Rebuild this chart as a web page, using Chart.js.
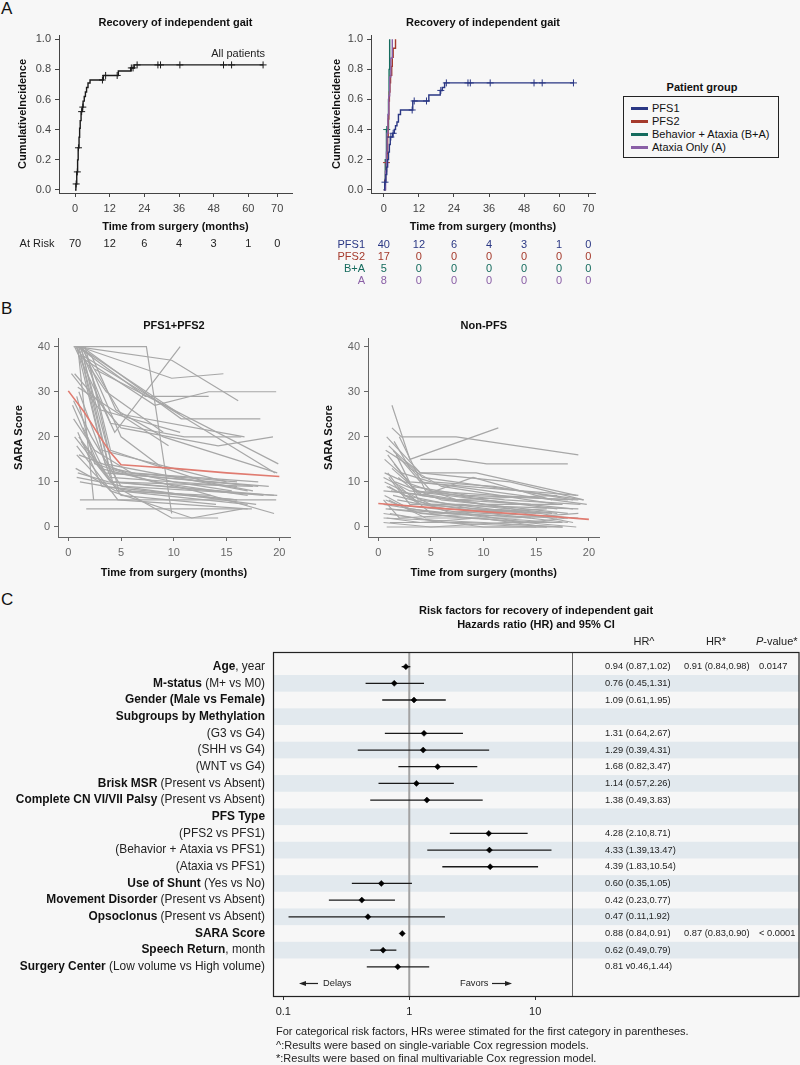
<!DOCTYPE html>
<html>
<head>
<meta charset="utf-8">
<script src="https://cdn.jsdelivr.net/npm/chart.js@4.4.0/dist/chart.umd.min.js"></script>
<style>
body { margin:0; background:#f7f7f7; width:800px; height:1065px; position:relative; overflow:hidden; font-family:"Liberation Sans", Arial, sans-serif; color:#111; }
canvas { position:absolute; }
.panel { position:absolute; font-size:17px; line-height:17px; }
#legendTitle { position:absolute; left:623px; width:158px; top:80px; line-height:14px; text-align:center; font-weight:bold; font-size:11px; }
#legend { position:absolute; left:623px; top:96px; width:154px; height:60px; border:1px solid #222; }
.entry { position:absolute; left:28px; font-size:11px; line-height:13px; white-space:nowrap; }
.swatch { position:absolute; left:7px; width:17px; height:3px; }
</style>
</head>
<body>
<div class="panel" style="left:1px;top:0px">A</div>
<div class="panel" style="left:1px;top:300px">B</div>
<div class="panel" style="left:1px;top:591px">C</div>

<canvas id="kmAll" width="300" height="290" style="left:0;top:0"></canvas>
<canvas id="kmGroup" width="300" height="290" style="left:300px;top:0"></canvas>
<div id="legendTitle">Patient group</div>
<div id="legend"></div>
<canvas id="saraPfs" width="300" height="300" style="left:0;top:290px"></canvas>
<canvas id="saraNon" width="300" height="300" style="left:300px;top:290px"></canvas>
<canvas id="forest" width="800" height="475" style="left:0;top:590px"></canvas>

<script>
const FONT = '"Liberation Sans", Arial, sans-serif';

// ---- Panel A: cumulative incidence ----
const kmTicks = [0, 12, 24, 36, 48, 60, 70];
const cumTicks = [0, 0.2, 0.4, 0.6, 0.8, 1.0];

const kmAllT = [0, 0.3, 0.6, 0.9, 1.1, 1.4, 1.6, 1.8, 2.1, 2.5, 2.8, 3.2, 3.6, 4.0, 4.5, 5.2, 9.8, 15.0, 19.3, 20.5, 65.1];
const kmAllS = [0, 0.04, 0.12, 0.20, 0.28, 0.35, 0.41, 0.46, 0.52, 0.55, 0.59, 0.62, 0.65, 0.68, 0.71, 0.73, 0.76, 0.79, 0.81, 0.83, 0.83];
const kmAllCensorT = [0.4, 0.8, 1.2, 2.3, 2.7, 9.5, 10.6, 14.6, 19.5, 20.1, 21.5, 28.7, 29.6, 36.3, 51.4, 54.2, 65.1];
const kmAllCensorS = [0.04, 0.12, 0.28, 0.52, 0.55, 0.73, 0.76, 0.76, 0.81, 0.81, 0.83, 0.83, 0.83, 0.83, 0.83, 0.83, 0.83];
const atRiskAll = [70, 12, 6, 4, 3, 1, 0];

const groupNames = ['PFS1', 'PFS2', 'Behavior + Ataxia (B+A)', 'Ataxia Only (A)'];
const groupShort = ['PFS1', 'PFS2', 'B+A', 'A'];
const groupColors = ['#2a3784', '#a53a2c', '#146b5d', '#8a5fa6'];

const pfs1T = [0, 0.3, 0.7, 1.0, 1.3, 1.6, 1.9, 2.2, 3.0, 3.6, 4.0, 4.5, 5.0, 5.7, 9.9, 15.4, 19.3, 20.0, 20.8, 64.9];
const pfs1S = [0, 0.05, 0.10, 0.15, 0.20, 0.25, 0.30, 0.35, 0.375, 0.40, 0.425, 0.45, 0.50, 0.53, 0.59, 0.63, 0.66, 0.68, 0.71, 0.71];
const pfs1CensorT = [0.4, 2.4, 3.2, 9.7, 10.4, 14.6, 19.5, 21.4, 28.8, 29.6, 36.4, 51.4, 54.2, 64.9];
const pfs1CensorS = [0.05, 0.35, 0.375, 0.53, 0.59, 0.59, 0.66, 0.71, 0.71, 0.71, 0.71, 0.71, 0.71, 0.71];
const pfs2T = [0, 0.3, 0.6, 0.9, 1.1, 1.3, 1.5, 1.7, 1.9, 2.1, 2.3, 2.7, 2.9, 3.2, 4.0];
const pfs2S = [0, 0.06, 0.12, 0.18, 0.24, 0.35, 0.47, 0.59, 0.65, 0.71, 0.76, 0.82, 0.88, 0.94, 1.0];
const pfs2CensorT = [0.9];
const pfs2CensorS = [0.18];
const baT = [0, 0.5, 0.9, 1.6, 1.8, 2.0];
const baS = [0, 0.2, 0.4, 0.6, 0.8, 1.0];
const baCensorT = [1.0];
const baCensorS = [0.4];
const aT = [0, 0.6, 0.9, 1.1, 1.4, 1.7, 2.0, 2.4, 2.9];
const aS = [0, 0.125, 0.25, 0.375, 0.5, 0.625, 0.75, 0.875, 1.0];

const atRiskPFS1 = [40, 12, 6, 4, 3, 1, 0];
const atRiskPFS2 = [17, 0, 0, 0, 0, 0, 0];
const atRiskBA = [5, 0, 0, 0, 0, 0, 0];
const atRiskA = [8, 0, 0, 0, 0, 0, 0];

// ---- Panel B: SARA score trajectories ([months, score]) ----
const monthTicks = [0, 5, 10, 15, 20];
const saraTicks = [0, 10, 20, 30, 40];

const pfsLines = [
  [[0.5,40],[7.4,40],[9.8,3]],
  [[0.8,40],[9.8,37],[16.1,28]],
  [[0.6,40],[4.4,21],[10.6,40]],
  [[1.1,40],[9.8,33],[14.7,34]],
  [[0.9,40],[7.3,29],[13.3,29]],
  [[1.0,38],[8.2,27],[13.3,30],[19.7,30]],
  [[1.3,40],[10.7,24],[18.2,24]],
  [[1.0,40],[10.6,25]],
  [[1.2,40],[5.0,25],[16.7,20]],
  [[0.6,34],[5.0,22],[14.2,18],[19.4,20]],
  [[2.5,35],[19.9,14]],
  [[1.4,38],[19.6,12]],
  [[0.9,31],[9.5,18]],
  [[0.3,34],[3.0,26],[10.6,21]],
  [[1.1,6],[19.7,6]],
  [[1.7,4],[17.4,4]],
  [[1.0,20],[4.5,9],[9.8,2],[14.2,2]],
  [[0.8,16],[4.0,8],[11.7,2],[16.5,4]],
  [[0.9,40],[2.4,6]],
  [[1.0,40],[3.5,14],[17.0,8]],
  [[1.2,40],[4.0,12],[18.0,9]],
  [[1.1,39],[4.2,10],[19.5,7]],
  [[0.8,40],[3.2,17],[15.0,10]],
  [[1.5,37],[4.8,8],[17.0,5]],
  [[1.0,30],[4.0,11],[16.0,9]],
  [[0.5,28],[2.2,20],[5.0,9],[17.8,5]],
  [[0.4,27],[3.0,13],[12.0,8],[19.5,3]],
  [[0.9,21],[3.2,9],[16.0,6]],
  [[0.6,20],[4.0,10],[18.5,7]],
  [[1.2,19],[5.0,7],[14.0,5]],
  [[0.8,18],[4.7,6],[17.0,4]],
  [[1.0,16],[5.5,12],[16.0,10]],
  [[0.7,13],[4.5,8],[13.5,7]],
  [[0.9,12],[3.8,10],[17.5,9]],
  [[0.8,11],[5.2,9],[19.8,7]],
  [[1.1,10],[6.0,8],[16.0,6]],
  [[1.3,40],[5.0,20],[9.0,13]],
  [[1.1,40],[4.0,23],[11.0,20],[16.4,20]],
  [[0.7,40],[3.6,30],[9.0,21]],
  [[1.6,40],[4.0,17],[13.0,10],[17.5,8]],
  [[2.0,36],[4.2,13],[10.0,10],[15.5,8]],
  [[0.5,24],[2.5,17],[6.0,12],[18.0,10]],
  [[1.4,22],[3.5,12],[19.0,9]],
  [[1.0,40],[2.2,38],[4.5,26],[9.0,20],[19.8,12]],
  [[0.8,29],[2.5,14],[8.0,10],[17.0,7]]
];
const pfsMeanT = [0, 1.5, 3, 4, 5, 8, 10, 15, 20];
const pfsMeanV = [30.2, 25.5, 20, 16.5, 13.8, 13.3, 13, 12, 11.2];

const nonPfsLines = [
  [[1.3,27],[3.0,15],[11.4,22]],
  [[1.3,22],[2.2,20],[7.4,20],[19.0,16]],
  [[4.0,15],[7.4,15],[10.3,14],[18.0,14]],
  [[0.8,20],[4.0,12],[9.3,12],[18.8,7]],
  [[1.0,18],[4.2,11],[19.5,6]],
  [[0.6,15],[3.0,10],[19.0,7]],
  [[1.4,17],[4.0,10],[19.8,5]],
  [[2.0,20],[4.5,8],[18.0,6]],
  [[0.5,11],[3.0,8],[17.0,4]],
  [[0.5,8],[5.0,7],[18.0,2]],
  [[1.0,9],[4.0,5],[15.0,3]],
  [[0.7,6],[4.0,3],[18.8,0]],
  [[0.5,2],[10.0,1],[17.5,0]],
  [[0.8,0],[17.5,0]],
  [[1.0,4],[8.0,2],[16.0,1]],
  [[0.5,5],[6.0,3],[17.0,2]],
  [[1.2,8],[7.0,6],[17.0,7]],
  [[0.6,10],[5.0,5],[19.0,4]],
  [[1.5,14],[3.5,8],[12.0,6],[19.2,5]],
  [[0.9,12],[2.5,7],[9.0,4],[16.5,3]],
  [[1.7,16],[3.8,6],[14.0,3],[18.5,1]],
  [[0.6,7],[3.0,4],[11.0,2],[17.0,1]],
  [[1.1,3],[6.0,1],[15.0,0]],
  [[0.5,1],[5.0,0],[12.0,1],[17.5,1]],
  [[2.2,12],[5.0,10],[11.0,9],[18.5,6]],
  [[1.0,6],[4.5,2],[13.0,2],[19.0,3]],
  [[0.8,9],[3.5,6],[7.0,3],[16.0,4]],
  [[1.9,11],[4.0,7],[10.0,5],[17.5,5]],
  [[0.7,4],[7.0,3],[14.5,2]],
  [[1.3,13],[4.2,7],[9.0,11],[16.5,6]],
  [[0.5,3],[3.5,2],[10.0,0],[16.0,0]],
  [[1.6,10],[6.0,6],[18.0,3]],
  [[1.2,5],[5.5,4],[14.0,1],[18.0,2]],
  [[0.9,16],[3.2,9],[8.5,7],[19.0,6]],
  [[2.0,9],[5.0,3],[12.5,4]],
  [[0.6,12],[2.5,10],[7.5,6],[14.5,5]],
  [[1.4,7],[5.0,5],[11.0,3],[19.0,2]],
  [[0.8,2],[4.0,1],[9.5,2],[16.0,0]],
  [[1.5,19],[3.0,13],[6.0,9],[17.0,5]],
  [[1.1,1],[8.5,1],[17.5,0]],
  [[0.7,17],[2.7,14],[5.0,8],[10.0,6],[18.5,4]],
  [[1.8,6],[6.5,4],[15.5,3]],
  [[2.4,15],[4.0,12],[12.5,10],[19.5,6]],
  [[1.0,11],[3.0,5],[8.0,5],[17.0,3]],
  [[0.5,6],[2.0,2],[10.5,3],[18.0,1]]
];
const nonPfsMeanT = [0, 5, 10, 15, 20];
const nonPfsMeanV = [5.2, 4.3, 3.4, 2.6, 1.7];

// ---- Panel C: forest plot ----
const forestTicks = [0.1, 1, 10];
const factorBold = ['Age', 'M-status', 'Gender (Male vs Female)', 'Subgroups by Methylation', '', '', '', 'Brisk MSR',
  'Complete CN VI/VII Palsy', 'PFS Type', '', '', '', 'Use of Shunt', 'Movement Disorder', 'Opsoclonus', 'SARA Score',
  'Speech Return', 'Surgery Center'];
const factorPlain = [', year', ' (M+ vs M0)', '', '', '(G3 vs G4)', '(SHH vs G4)', '(WNT vs G4)', ' (Present vs Absent)',
  ' (Present vs Absent)', '', '(PFS2 vs PFS1)', '(Behavior + Ataxia vs PFS1)', '(Ataxia vs PFS1)', ' (Yes vs No)',
  ' (Present vs Absent)', ' (Present vs Absent)', '', ', month', ' (Low volume vs High volume)'];
const hrEst  = [0.94, 0.76, 1.09, null, 1.31, 1.29, 1.68, 1.14, 1.38, null, 4.28, 4.33, 4.39, 0.60, 0.42, 0.47, 0.88, 0.62, 0.81];
const hrLow  = [0.87, 0.45, 0.61, null, 0.64, 0.39, 0.82, 0.57, 0.49, null, 2.10, 1.39, 1.83, 0.35, 0.23, 0.11, 0.84, 0.49, 0.46];
const hrHigh = [1.02, 1.31, 1.95, null, 2.67, 4.31, 3.47, 2.26, 3.83, null, 8.71, 13.47, 10.54, 1.05, 0.77, 1.92, 0.91, 0.79, 1.44];
const hrSingleText = ['0.94 (0.87,1.02)', '0.76 (0.45,1.31)', '1.09 (0.61,1.95)', '', '1.31 (0.64,2.67)', '1.29 (0.39,4.31)',
  '1.68 (0.82,3.47)', '1.14 (0.57,2.26)', '1.38 (0.49,3.83)', '', '4.28 (2.10,8.71)', '4.33 (1.39,13.47)', '4.39 (1.83,10.54)',
  '0.60 (0.35,1.05)', '0.42 (0.23,0.77)', '0.47 (0.11,1.92)', '0.88 (0.84,0.91)', '0.62 (0.49,0.79)', '0.81 v0.46,1.44)'];
const hrMultiText = ['0.91 (0.84,0.98)', '', '', '', '', '', '', '', '', '', '', '', '', '', '', '', '0.87 (0.83,0.90)', '', ''];
const pValueText = ['0.0147', '', '', '', '', '', '', '', '', '', '', '', '', '', '', '', '< 0.0001', '', ''];
const footnotes = [
  'For categorical risk factors, HRs weree stimated for the first category in parentheses.',
  '^:Results were based on single-variable Cox regression models.',
  '*:Results were based on final multivariable Cox regression model.'
];

function txt(ctx, s, x, y, o) {
  o = o || {};
  ctx.save();
  ctx.font = (o.italic ? 'italic ' : '') + (o.bold ? 'bold ' : '') + (o.size || 11) + 'px ' + FONT;
  ctx.fillStyle = o.color || '#111';
  ctx.textAlign = o.align || 'center';
  ctx.textBaseline = 'middle';
  if (o.rot) { ctx.translate(x, y); ctx.rotate(o.rot); ctx.fillText(s, 0, 0); }
  else ctx.fillText(s, x, y);
  ctx.restore();
}

function axis(min, max, ticks, fmt, size, isY, col) {
  return {
    type: 'linear', min: min, max: max,
    afterBuildTicks: a => { a.ticks = ticks.map(v => ({ value: v })); },
    afterFit: a => { if (isY) a.width = size; else a.height = size; },
    ticks: { callback: fmt, color: col, font: { size: 11, family: FONT }, padding: isY ? 4 : 5, maxRotation: 0, autoSkip: false },
    grid: { drawOnChartArea: false, drawTicks: true, tickLength: 4, color: col },
    border: { color: col }
  };
}

function pts(xs, ys) { return xs.map((x, i) => ({ x: x, y: ys[i] })); }

function kmCurve(T, S, col) {
  return { data: pts(T, S), stepped: true, borderColor: col, borderWidth: 1.4, pointRadius: 0 };
}
function kmCensor(T, S, col) {
  return { data: pts(T, S), showLine: false, pointStyle: 'cross', pointRadius: 3.5, borderColor: col, borderWidth: 1 };
}

function baseOptions(pad, scales) {
  return {
    responsive: false, animation: false,
    layout: { padding: pad },
    plugins: { legend: { display: false }, tooltip: { enabled: false } },
    scales: scales
  };
}

// Panel A left
new Chart(document.getElementById('kmAll'), {
  type: 'line',
  data: { datasets: [kmCurve(kmAllT, kmAllS, '#1a1a1a'), kmCensor(kmAllCensorT, kmAllCensorS, '#1a1a1a')] },
  options: baseOptions({ left: 0, right: 8, top: 35, bottom: 67 }, {
    x: axis(-5.54, 75.11, kmTicks, v => String(v), 30, false, '#444'),
    y: axis(-0.02, 1.0285, cumTicks, v => v.toFixed(1), 59, true, '#444')
  }),
  plugins: [{
    id: 'kmAllText',
    afterDraw(chart) {
      const ctx = chart.ctx, a = chart.chartArea, xs = chart.scales.x, cx = (a.left + a.right) / 2;
      txt(ctx, 'Recovery of independent gait', cx, 23, { bold: true });
      txt(ctx, 'CumulativeIncidence', 23, (a.top + a.bottom) / 2, { bold: true, rot: -Math.PI / 2 });
      txt(ctx, 'Time from surgery (months)', cx, 227, { bold: true });
      txt(ctx, 'All patients', 265, 54, { align: 'right', color: '#222' });
      txt(ctx, 'At Risk', 37, 244, { color: '#222' });
      atRiskAll.forEach((n, i) => txt(ctx, String(n), xs.getPixelForValue(kmTicks[i]), 244, { color: '#222' }));
    }
  }]
});

// Panel A right
const groupAtRisk = [atRiskPFS1, atRiskPFS2, atRiskBA, atRiskA];
new Chart(document.getElementById('kmGroup'), {
  type: 'line',
  data: { datasets: [
    kmCurve(pfs1T, pfs1S, groupColors[0]), kmCensor(pfs1CensorT, pfs1CensorS, groupColors[0]),
    kmCurve(aT, aS, groupColors[3]),
    kmCurve(pfs2T, pfs2S, groupColors[1]), kmCensor(pfs2CensorT, pfs2CensorS, groupColors[1]),
    kmCurve(baT, baS, groupColors[2]), kmCensor(baCensorT, baCensorS, groupColors[2])
  ] },
  options: baseOptions({ left: 0, right: 2, top: 35, bottom: 67 }, {
    x: axis(-4.39, 72.27, kmTicks, v => String(v), 30, false, '#444'),
    y: axis(-0.022, 1.0286, cumTicks, v => v.toFixed(1), 71, true, '#444')
  }),
  plugins: [{
    id: 'kmGroupText',
    afterDraw(chart) {
      const ctx = chart.ctx, a = chart.chartArea, xs = chart.scales.x, cx = (a.left + a.right) / 2;
      txt(ctx, 'Recovery of independent gait', cx, 23, { bold: true });
      txt(ctx, 'CumulativeIncidence', 37, (a.top + a.bottom) / 2, { bold: true, rot: -Math.PI / 2 });
      txt(ctx, 'Time from surgery (months)', cx, 227, { bold: true });
      const rowY = [245, 257, 269, 281];
      groupShort.forEach((g, r) => {
        txt(ctx, g, 65, rowY[r], { align: 'right', color: groupColors[r] });
        groupAtRisk[r].forEach((n, i) => txt(ctx, String(n), xs.getPixelForValue(kmTicks[i]), rowY[r], { color: groupColors[r] }));
      });
    }
  }]
});

// legend (HTML)
const legendBox = document.getElementById('legend');
const legendY = [5, 18, 31, 44];
groupNames.forEach((g, i) => {
  const sw = document.createElement('div');
  sw.className = 'swatch';
  sw.style.top = (legendY[i] + 5) + 'px';
  sw.style.background = groupColors[i];
  legendBox.appendChild(sw);
  const e = document.createElement('div');
  e.className = 'entry';
  e.style.top = legendY[i] + 'px';
  e.textContent = g;
  legendBox.appendChild(e);
});

// Panel B
function saraChart(id, lines, meanT, meanV, pad, yw, title, ytx) {
  const ds = [{ data: pts(meanT, meanV), borderColor: '#e07b70', borderWidth: 1.6, pointRadius: 0, order: 0 }];
  lines.forEach(l => ds.push({ data: l.map(p => ({ x: p[0], y: p[1] })), borderColor: '#a7a7a7', borderWidth: 1.2, pointRadius: 0, order: 1 }));
  new Chart(document.getElementById(id), {
    type: 'line',
    data: { datasets: ds },
    options: baseOptions(pad, {
      x: axis(-0.976, 21.01, monthTicks, v => String(v), 30, false, '#666'),
      y: axis(-2.22, 41.93, saraTicks, v => String(v), yw, true, '#666')
    }),
    plugins: [{
      id: id + 'Text',
      afterDraw(chart) {
        const ctx = chart.ctx, a = chart.chartArea, cx = (a.left + a.right) / 2;
        txt(ctx, title, cx, 36, { bold: true });
        txt(ctx, 'SARA Score', ytx, (a.top + a.bottom) / 2, { bold: true, rot: -Math.PI / 2 });
        txt(ctx, 'Time from surgery (months)', cx, 283, { bold: true });
      }
    }]
  });
}
saraChart('saraPfs', pfsLines, pfsMeanT, pfsMeanV, { left: 0, right: 10, top: 48, bottom: 23 }, 58, 'PFS1+PFS2', 19);
saraChart('saraNon', nonPfsLines, nonPfsMeanT, nonPfsMeanV, { left: 0, right: 0, top: 48, bottom: 23 }, 68, 'Non-PFS', 29);

// Panel C
const ciSets = [];
hrEst.forEach((h, i) => {
  if (h === null) return;
  ciSets.push({ data: [{ x: hrLow[i], y: i }, { x: hrHigh[i], y: i }], borderColor: '#1a1a1a', borderWidth: 1.3, pointRadius: 0, order: 1 });
});
const diamonds = {
  data: hrEst.map((h, i) => ({ x: h, y: i })).filter(p => p.x !== null),
  showLine: false, pointStyle: 'rectRot', pointRadius: 3, backgroundColor: '#000', borderColor: '#000', borderWidth: 0.5, order: 0
};

new Chart(document.getElementById('forest'), {
  type: 'line',
  data: { datasets: [diamonds].concat(ciSets) },
  options: baseOptions({ left: 273, right: 228, top: 62, bottom: 39 }, {
    x: {
      type: 'logarithmic', min: 0.0828, max: 19.6,
      afterBuildTicks: a => { a.ticks = forestTicks.map(v => ({ value: v })); },
      afterFit: a => { a.height = 30; },
      ticks: { callback: v => String(v), color: '#222', font: { size: 11, family: FONT }, padding: 5, maxRotation: 0, autoSkip: false },
      grid: { drawOnChartArea: false, drawTicks: true, tickLength: 4, color: '#333' },
      border: { display: false }
    },
    y: { type: 'linear', reverse: true, min: -0.88, max: 19.75, display: false }
  }),
  plugins: [{
    id: 'forestDeco',
    beforeDatasetsDraw(chart) {
      const ctx = chart.ctx, a = chart.chartArea, ys = chart.scales.y, xs = chart.scales.x;
      ctx.save();
      ctx.fillStyle = '#e2e9ee';
      hrEst.forEach((h, i) => {
        if (i % 2 === 1) {
          const y0 = ys.getPixelForValue(i - 0.5), y1 = ys.getPixelForValue(i + 0.5);
          ctx.fillRect(a.left, y0, 799 - a.left, y1 - y0);
        }
      });
      const x1 = xs.getPixelForValue(1);
      ctx.strokeStyle = '#a3a3a3'; ctx.lineWidth = 2;
      ctx.beginPath(); ctx.moveTo(x1, a.top); ctx.lineTo(x1, a.bottom); ctx.stroke();
      ctx.strokeStyle = '#666'; ctx.lineWidth = 1;
      ctx.beginPath(); ctx.moveTo(a.right + 0.5, a.top); ctx.lineTo(a.right + 0.5, a.bottom); ctx.stroke();
      ctx.restore();
    },
    afterDraw(chart) {
      const ctx = chart.ctx, a = chart.chartArea, ys = chart.scales.y;
      ctx.save();
      ctx.strokeStyle = '#222'; ctx.lineWidth = 1.2;
      ctx.strokeRect(a.left + 0.5, a.top + 0.5, 798.5 - a.left, a.bottom - a.top);
      ctx.restore();

      txt(ctx, 'Risk factors for recovery of independent gait', 536, 21, { bold: true });
      txt(ctx, 'Hazards ratio (HR) and 95% CI', 536, 35, { bold: true });
      txt(ctx, 'HR^', 644, 52, { color: '#222' });
      txt(ctx, 'HR*', 716, 52, { color: '#222' });
      txt(ctx, 'P', 756, 52, { italic: true, align: 'left', color: '#222' });
      ctx.save(); ctx.font = 'italic 11px ' + FONT; const pw = ctx.measureText('P').width; ctx.restore();
      txt(ctx, '-value*', 756 + pw, 52, { align: 'left', color: '#222' });

      const LS = 11.9;
      factorBold.forEach((b, i) => {
        const y = ys.getPixelForValue(i);
        ctx.save();
        ctx.font = LS + 'px ' + FONT;
        const wp = ctx.measureText(factorPlain[i]).width;
        ctx.font = 'bold ' + LS + 'px ' + FONT;
        const wb = ctx.measureText(b).width;
        ctx.restore();
        const right = 265;
        if (b) txt(ctx, b, right - wp - wb, y, { bold: true, size: LS, align: 'left' });
        if (factorPlain[i]) txt(ctx, factorPlain[i], right - wp, y, { size: LS, align: 'left', color: '#222' });
        if (hrSingleText[i]) txt(ctx, hrSingleText[i], 605, y, { size: 9.3, align: 'left', color: '#222' });
        if (hrMultiText[i]) txt(ctx, hrMultiText[i], 684, y, { size: 9.3, align: 'left', color: '#222' });
        if (pValueText[i]) txt(ctx, pValueText[i], 759, y, { size: 9.3, align: 'left', color: '#222' });
      });

      // direction arrows
      const ya = ys.getPixelForValue(19);
      ctx.save();
      ctx.strokeStyle = '#222'; ctx.fillStyle = '#222'; ctx.lineWidth = 1.2;
      ctx.beginPath(); ctx.moveTo(304, ya); ctx.lineTo(318, ya); ctx.stroke();
      ctx.beginPath(); ctx.moveTo(299, ya); ctx.lineTo(306, ya - 2.5); ctx.lineTo(306, ya + 2.5); ctx.closePath(); ctx.fill();
      ctx.beginPath(); ctx.moveTo(492, ya); ctx.lineTo(506, ya); ctx.stroke();
      ctx.beginPath(); ctx.moveTo(512, ya); ctx.lineTo(505, ya - 2.5); ctx.lineTo(505, ya + 2.5); ctx.closePath(); ctx.fill();
      ctx.restore();
      txt(ctx, 'Delays', 323, ya, { size: 9.3, align: 'left', color: '#222' });
      txt(ctx, 'Favors', 460, ya, { size: 9.3, align: 'left', color: '#222' });

      const fy = [442, 456, 469];
      footnotes.forEach((f, i) => txt(ctx, f, 276, fy[i], { size: 11, align: 'left', color: '#222' }));
    }
  }]
});
</script>
</body>
</html>
